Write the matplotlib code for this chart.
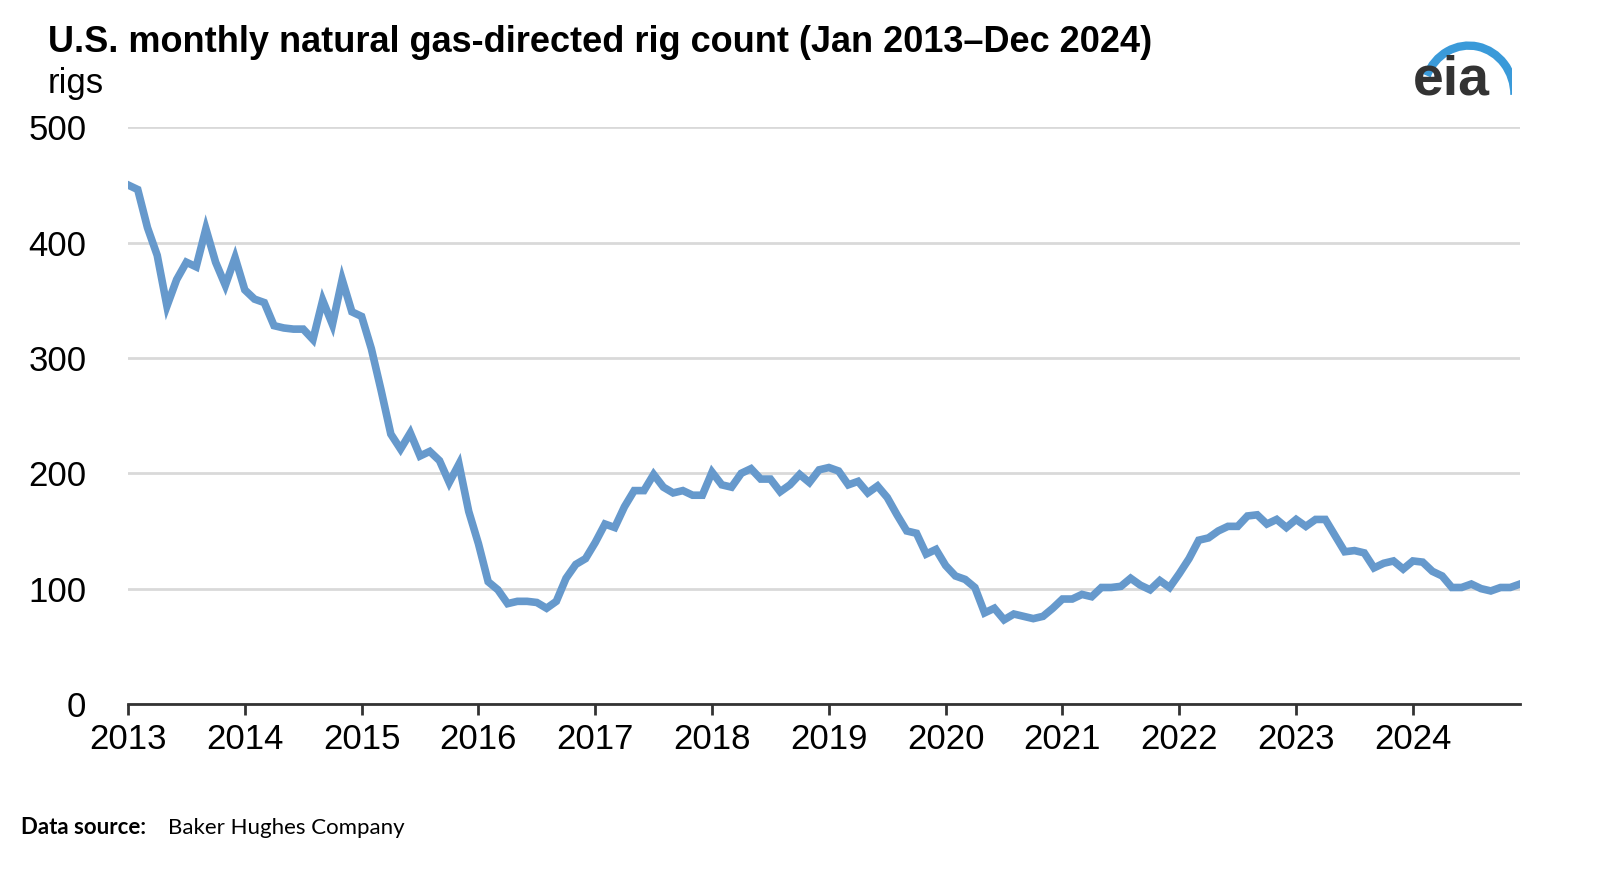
import matplotlib
matplotlib.use("Agg")
import matplotlib.pyplot as plt
from matplotlib.patches import Arc
import numpy as np

years = list(range(2013, 2025))
rigs = [
    450,446,413,389,345,368,383,379,412,383,363,387,
    359,351,348,328,326,325,325,316,350,329,368,340,
    336,308,272,234,221,235,215,219,211,192,208,167,
    139,106,99,87,89,89,88,83,89,109,121,126,
    140,156,153,171,185,185,199,188,183,185,181,181,
    201,190,188,200,204,195,195,184,190,199,192,203,
    205,202,190,193,183,189,179,164,150,148,130,134,
    120,111,108,101,79,83,73,78,76,74,76,83,
    91,91,95,93,101,101,102,109,103,99,107,101,
    113,126,142,144,150,154,154,163,164,156,160,153,
    160,154,160,160,146,132,133,131,118,122,124,117,
    124,123,115,111,101,101,104,100,98,101,101,104,
]
yticks = [0, 100, 200, 300, 400, 500]

fig = plt.figure(figsize=(16, 8.9), dpi=100)
ax = fig.add_axes([0.08, 0.209, 0.87, 0.648])
x = np.arange(len(rigs))
ax.plot(x, rigs, color="#6699cc", lw=5.5, solid_joinstyle="miter")
ax.set_xlim(0, len(rigs) - 1)
ax.set_ylim(0, 500)
ax.set_yticks(yticks)
ax.set_xticks([12 * i for i in range(len(years))])
ax.set_xticklabels([str(y) for y in years])
ax.grid(axis="y", color="#d9d9d9", lw=2)
ax.set_axisbelow(True)
for s in ["top", "right", "left"]:
    ax.spines[s].set_visible(False)
ax.spines["bottom"].set_color("#333333")
ax.spines["bottom"].set_linewidth(2)
ax.tick_params(axis="y", length=0, labelsize=25, pad=30)
ax.tick_params(axis="x", length=8, width=2, color="#333333", labelsize=25, pad=6)
for lbl in ax.get_yticklabels():
    lbl.set_fontfamily("Liberation Sans")
for lbl in ax.get_xticklabels():
    lbl.set_fontfamily("Liberation Sans")

fig.text(0.03, 0.952, "U.S. monthly natural gas-directed rig count (Jan 2013\u2013Dec 2024)",
         fontsize=26, fontweight="bold", family="Liberation Sans", va="center")
fig.text(0.03, 0.906, "rigs", fontsize=25, family="Liberation Sans", va="center")
fig.text(0.013, 0.07, "Data source:", fontsize=16, fontweight="bold",
         family="Lato", va="center")
fig.text(0.105, 0.07, "Baker Hughes Company", fontsize=16, family="Lato", va="center")
fig.text(0.883, 0.91, "eia", fontsize=40, fontweight="bold", color="#333333",
         family="Liberation Sans", va="center")
lax = fig.add_axes([0.885, 0.885, 0.06, 0.085])
lax.set_xlim(0, 1); lax.set_ylim(0, 1); lax.axis("off")
lax.add_patch(Arc((0.55, 0.1), 0.95, 1.3, theta1=0, theta2=150, color="#3a9ad9", lw=6))
fig.savefig("out.png", dpi=100)
